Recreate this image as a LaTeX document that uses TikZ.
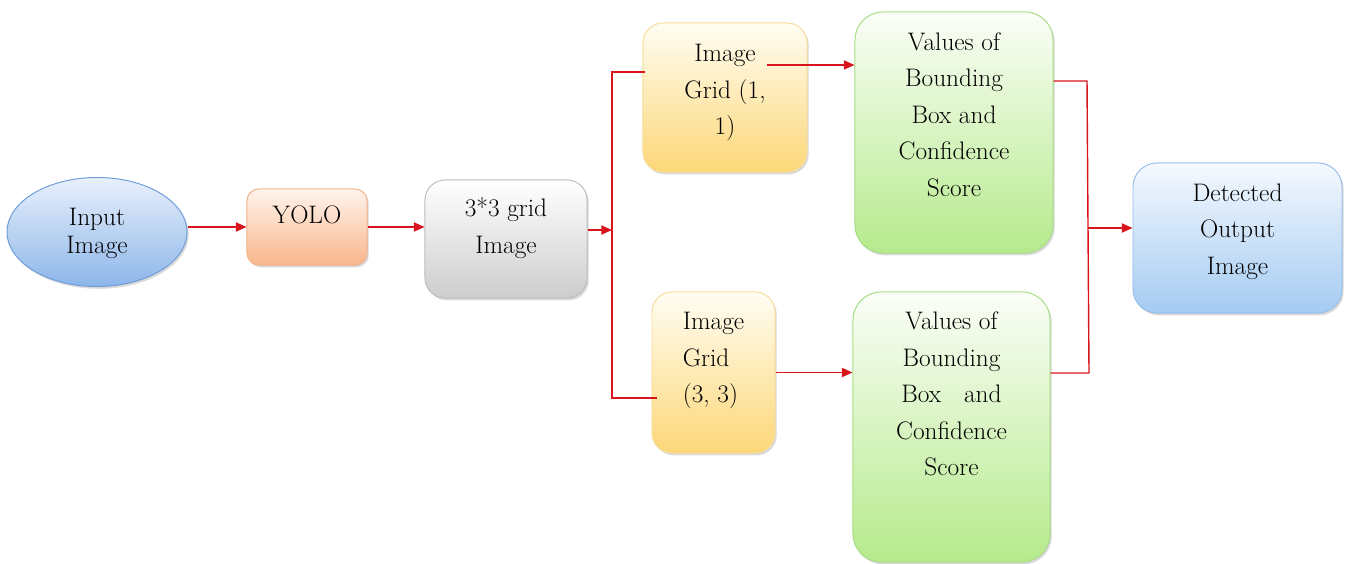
\documentclass[tikz,border=0pt]{standalone}
\usepackage{fontspec}
\usetikzlibrary{arrows.meta,shapes.geometric,shadows}

\definecolor{linered}{HTML}{D8141C}
\definecolor{inTop}{HTML}{E8F0FB}
\definecolor{inBot}{HTML}{8DB6EA}
\definecolor{inLine}{HTML}{6E9DDA}
\definecolor{yoTop}{HTML}{FFF4EC}
\definecolor{yoBot}{HTML}{F8B68C}
\definecolor{yoLine}{HTML}{F2B088}
\definecolor{grTop}{HTML}{FFFFFF}
\definecolor{grBot}{HTML}{CDCDCD}
\definecolor{grLine}{HTML}{BDBDBD}
\definecolor{ylTop}{HTML}{FFFDF3}
\definecolor{ylBot}{HTML}{FCD778}
\definecolor{ylLine}{HTML}{F8DC9A}
\definecolor{gnTop}{HTML}{FBFEF8}
\definecolor{gnBot}{HTML}{B6EA8C}
\definecolor{gnLine}{HTML}{A6DD84}
\definecolor{ouTop}{HTML}{F5F9FE}
\definecolor{ouBot}{HTML}{A4CBF2}
\definecolor{ouLine}{HTML}{96BFE9}

% text lifted inside a box
\newcommand{\boxtext}[3][c]{\raisebox{#2}[0pt][0pt]{\begin{tabular}{@{}#1@{}}#3\end{tabular}}}

\begin{document}
\begin{tikzpicture}[
	x=0.025cm,
	y=-0.025cm,
	font=\fontsize{18}{26}\selectfont,
	box/.style={
		rectangle,
		rounded corners=0.5cm,
		line width=0.7pt,
		inner sep=0pt,
		drop shadow={shadow xshift=1.2pt, shadow yshift=-1.6pt, fill=black, opacity=0.15}
	},
	wire/.style={draw=linered, line width=1pt},
	flow/.style={wire, -{Triangle[length=7.5pt,width=6.5pt]}}]

	\useasboundingbox (0,0) rectangle (1345,564);

	\node[box, ellipse, draw=inLine, top color=inTop, bottom color=inBot,
		minimum width=4.5cm, minimum height=2.725cm,
		font=\fontsize{18}{20}\selectfont] (in) at (97,232) {\boxtext{-5.9pt}{Input\\Image}};
	\node[box, rounded corners=0.3cm, draw=yoLine, top color=yoTop, bottom color=yoBot,
		minimum width=3cm, minimum height=1.9cm] (yolo) at (307,227) {\boxtext{3.1pt}{YOLO}};
	\node[box, draw=grLine, top color=grTop, bottom color=grBot,
		minimum width=4.05cm, minimum height=2.95cm] (grid) at (506,239) {\boxtext{3.9pt}{3*3 grid\\Image}};

	\node[box, draw=ylLine, top color=ylTop, bottom color=ylBot,
		minimum width=4.1cm, minimum height=3.725cm] (g11) at (725,97.5) {\boxtext{0.4pt}{Image\\Grid (1,\\1)}};
	\node[box, draw=ylLine, top color=ylTop, bottom color=ylBot,
		minimum width=3.075cm, minimum height=4.025cm] (g33) at (713.5,372.5) {\boxtext[l]{5.3pt}{Image\\Grid\\(3, 3)}};

	\node[box, rounded corners=0.7cm, draw=gnLine, top color=gnTop, bottom color=gnBot,
		minimum width=4.95cm, minimum height=6.025cm] (v11) at (954,132.5)
		{\boxtext{7.5pt}{Values of\\Bounding\\Box and\\Confidence\\Score}};
	\node[box, rounded corners=0.7cm, draw=gnLine, top color=gnTop, bottom color=gnBot,
		minimum width=4.925cm, minimum height=6.75cm] (v33) at (951.5,427)
		{\boxtext{18.1pt}{Values of\\Bounding\\Box\ \ \ and\\Confidence\\Score}};

	\node[box, rounded corners=0.6cm, draw=ouLine, top color=ouTop, bottom color=ouBot,
		minimum width=5.225cm, minimum height=3.75cm] (out) at (1237.5,238) {\boxtext{1.1pt}{Detected\\Output\\Image}};

	\coordinate (fork) at (612,230);
	\coordinate (t11) at (645,72);
	\coordinate (t33) at (657,398);
	\coordinate (a11) at (767,65);
	\coordinate (m11) at (1087,81);
	\coordinate (m33) at (1089,373);
	\coordinate (join) at (1088,228);

	\draw[flow] (in.east |- yolo.west) -- (yolo.west);
	\draw[flow] (yolo.east) -- (yolo.east -| grid.west);
	\draw[flow] (grid.east |- fork) -- (fork);
	\draw[wire] (t11) -| (fork) |- (t33);
	\draw[flow] (a11) -- (a11 -| v11.west);
	\draw[flow] (g33.east) -- (g33.east -| v33.west);
	\draw[wire] (v11.east |- m11) -- (m11) -- (m33) -- (v33.east |- m33);
	\draw[flow] (join) -- (join -| out.west);
\end{tikzpicture}
\end{document}
